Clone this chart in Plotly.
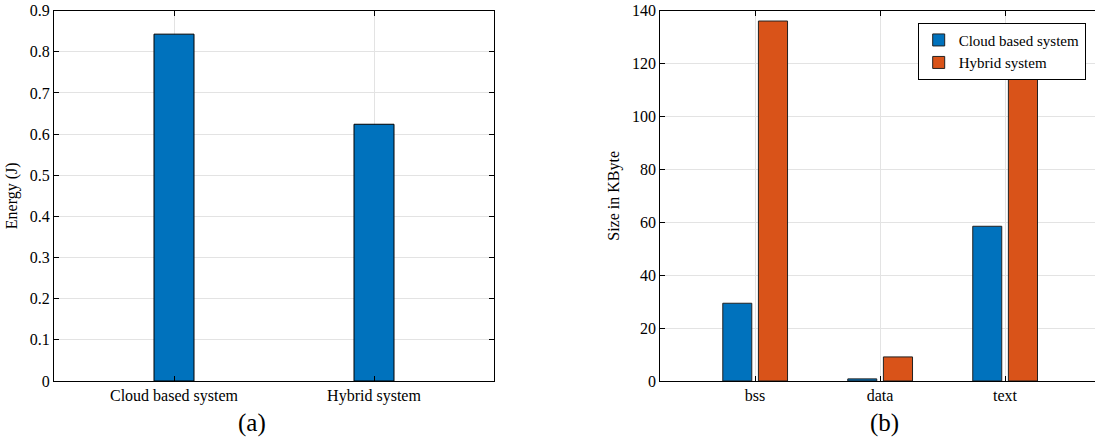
import plotly.graph_objects as go

# Data
systems = ["Cloud based system", "Hybrid system"]
energy = [0.843, 0.624]

sections = ["bss", "data", "text"]
cloud_size = [29.4, 0.8, 58.5]
hybrid_size = [136.1, 9.1, 115.1]

BLUE = "#0072BD"
ORANGE = "#D95319"
FONT = "Liberation Serif"

fig = go.Figure()

fig.add_trace(go.Bar(x=[1, 2], y=energy, width=0.2, marker=dict(color=BLUE, line=dict(color="black", width=1)),
                     showlegend=False, xaxis="x", yaxis="y"))

fig.add_trace(go.Bar(x=[1, 2, 3], y=cloud_size, name="Cloud based system", offset=-0.258, width=0.232,
                     marker=dict(color=BLUE, line=dict(color="#222", width=1)), xaxis="x2", yaxis="y2"))
fig.add_trace(go.Bar(x=[1, 2, 3], y=hybrid_size, name="Hybrid system", offset=0.027, width=0.233,
                     marker=dict(color=ORANGE, line=dict(color="#222", width=1)), xaxis="x2", yaxis="y2"))

axis_common = dict(showline=True, linecolor="black", linewidth=1, ticks="inside", ticklen=5,
                   tickcolor="black", showgrid=True, gridcolor="#e3e3e3", gridwidth=1, zeroline=False,
                   automargin=False, tickfont=dict(family=FONT, size=16, color="black"))

ydom = [1 - 381 / 439, 1 - 10.7 / 439]

fig.update_layout(
    width=1095, height=439, margin=dict(l=0, r=0, t=0, b=0),
    paper_bgcolor="white", plot_bgcolor="white", barmode="overlay",
    font=dict(family=FONT, color="black"),
    xaxis=dict(domain=[54 / 1095, 494 / 1095], range=[0.4, 2.6], tickvals=[1, 2], ticktext=systems,
               mirror="ticks", **axis_common),
    yaxis=dict(domain=ydom, range=[0, 0.9], dtick=0.1, tickformat=".1~f", mirror="ticks",
               title=dict(text="Energy (J)", font=dict(family=FONT, size=16), standoff=8), **axis_common),
    xaxis2=dict(domain=[660.3 / 1095, 1.0], range=[0.242, 3.72], tickvals=[1, 2, 3], ticktext=sections,
                anchor="y2", mirror="ticks", **axis_common),
    yaxis2=dict(domain=ydom, range=[0, 140], dtick=20, anchor="x2", mirror=False,
                title=dict(text="Size in KByte", font=dict(family=FONT, size=16), standoff=8), **axis_common),
    legend=dict(x=917.7 / 1095, y=1 - 22.7 / 439, xanchor="left", yanchor="top", bgcolor="white",
                bordercolor="black", borderwidth=1, font=dict(family=FONT, size=15), tracegroupgap=0,
                itemwidth=30),
    annotations=[
        dict(text="(a)", x=252 / 1095, y=1 - 423 / 439, xref="paper", yref="paper", showarrow=False,
             xanchor="center", yanchor="middle", font=dict(family=FONT, size=25)),
        dict(text="(b)", x=884 / 1095, y=1 - 423 / 439, xref="paper", yref="paper", showarrow=False,
             xanchor="center", yanchor="middle", font=dict(family=FONT, size=25)),
    ],
)

fig.write_html("out.html")
